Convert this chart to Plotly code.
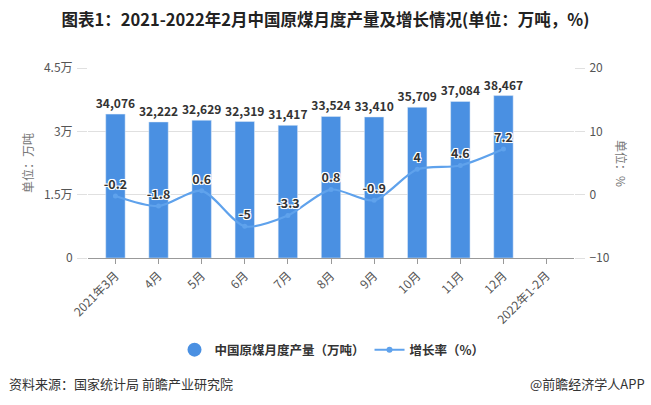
import plotly.graph_objects as go

categories = ["2021年3月", "4月", "5月", "6月", "7月", "8月", "9月", "10月", "11月", "12月", "2022年1-2月"]
output = [34076, 32222, 32629, 32319, 31417, 33524, 33410, 35709, 37084, 38467, None]
growth = [-0.2, -1.8, 0.6, -5, -3.3, 0.8, -0.9, 4, 4.6, 7.2, None]
left_ticks = [0, 15000, 30000, 45000]
left_labels = ["0", "1.5万", "3万", "4.5万"]
right_ticks = [-10, 0, 10, 20]

FONT = "Noto Sans CJK SC, Microsoft YaHei, sans-serif"
BAR = "#4A90E2"
LINE = "#5FA2EC"
GRID = "#e0e0e0"
halo = "1px 1px 0 #fff, -1px -1px 0 #fff, 1px -1px 0 #fff, -1px 1px 0 #fff, 0 0 2px #fff"

bar_text = [f"{v:,}" if v is not None else "" for v in output]
line_text = [f"{v:g}" if v is not None else "" for v in growth]

fig = go.Figure()
fig.add_trace(go.Bar(
    x=categories, y=output, width=0.45, marker_color=BAR,
    text=bar_text, textposition="outside", cliponaxis=False, constraintext="none",
    textfont=dict(family=FONT, size=12, color="#333", weight="bold"),
    showlegend=False, hoverinfo="x+y",
))
fig.add_trace(go.Scatter(
    x=categories, y=growth, yaxis="y2", mode="lines+markers+text",
    line=dict(color=LINE, width=2.2, shape="spline", smoothing=0.8),
    marker=dict(color=LINE, size=5),
    text=line_text, textposition="top center", cliponaxis=False,
    textfont=dict(family=FONT, size=12.5, color="#333", weight="bold", shadow=halo),
    showlegend=False,
))
# legend entries
fig.add_trace(go.Scatter(
    x=[None], y=[None], mode="markers", name="中国原煤月度产量（万吨）",
    marker=dict(color=BAR, size=14, symbol="circle"),
))
fig.add_trace(go.Scatter(
    x=[None], y=[None], mode="lines+markers", name="增长率（%）", yaxis="y2",
    line=dict(color=LINE, width=2), marker=dict(color=LINE, size=6),
))

fig.update_layout(
    width=651, height=405,
    margin=dict(l=88, r=77, t=68, b=147, autoexpand=False),
    paper_bgcolor="white", plot_bgcolor="white",
    font=dict(family=FONT, size=12, color="#666"),
    title=dict(
        text="<b>图表1：2021-2022年2月中国原煤月度产量及增长情况(单位：万吨，%)</b>",
        x=0.5, xref="container", xanchor="center",
        y=1 - 20 / 405, yref="container", yanchor="middle",
        font=dict(family=FONT, size=16.5, color="#222"),
    ),
    xaxis=dict(
        type="category", categoryorder="array", categoryarray=categories,
        tickangle=-45, ticks="outside", ticklen=5, tickcolor="#999",
        showline=True, linecolor="#999", linewidth=1, automargin=False,
        showgrid=False, tickfont=dict(size=12, color="#555"),
    ),
    yaxis=dict(
        range=[0, 45000], tickvals=left_ticks, ticktext=left_labels,
        showgrid=True, gridcolor=GRID, zeroline=False, automargin=False,
        tickfont=dict(size=12, color="#555"),
        ticks="outside", ticklen=10, tickcolor=GRID, ticklabelstandoff=2,
    ),
    yaxis2=dict(
        range=[-10, 20], tickvals=right_ticks, overlaying="y", side="right",
        showgrid=False, zeroline=False, tickfont=dict(size=12, color="#555"),
        ticks="outside", ticklen=10, tickcolor=GRID, ticklabelstandoff=2,
        automargin=False,
    ),
    legend=dict(
        orientation="h", xref="container", yref="container",
        x=0.51, xanchor="center", y=1 - 350 / 405, yanchor="middle",
        font=dict(family=FONT, size=12.5, color="#333", weight="bold"),
        itemwidth=30, tracegroupgap=0,
    ),
    annotations=[
        dict(text="单位：万吨", textangle=-90, x=(27 - 88) / 486, y=0.5,
             xref="paper", yref="paper", xanchor="center", yanchor="middle",
             showarrow=False, font=dict(family=FONT, size=12, color="#777")),
        dict(text="单位：%", textangle=90, x=(622 - 88) / 486, y=0.5,
             xref="paper", yref="paper", xanchor="center", yanchor="middle",
             showarrow=False, font=dict(family=FONT, size=12, color="#777")),
        dict(text="资料来源：国家统计局 前瞻产业研究院", x=(7 - 88) / 486, y=(258 - 383) / 190,
             xref="paper", yref="paper", xanchor="left", yanchor="middle", showarrow=False,
             font=dict(family=FONT, size=13, color="#333")),
        dict(text="@前瞻经济学人APP", x=(647 - 88) / 486, y=(258 - 383) / 190,
             xref="paper", yref="paper", xanchor="right", yanchor="middle", showarrow=False,
             font=dict(family=FONT, size=13, color="#333")),
    ],
)

fig.write_html("out.html", config={"displayModeBar": False},
               post_script="document.body.style.margin='0';")
